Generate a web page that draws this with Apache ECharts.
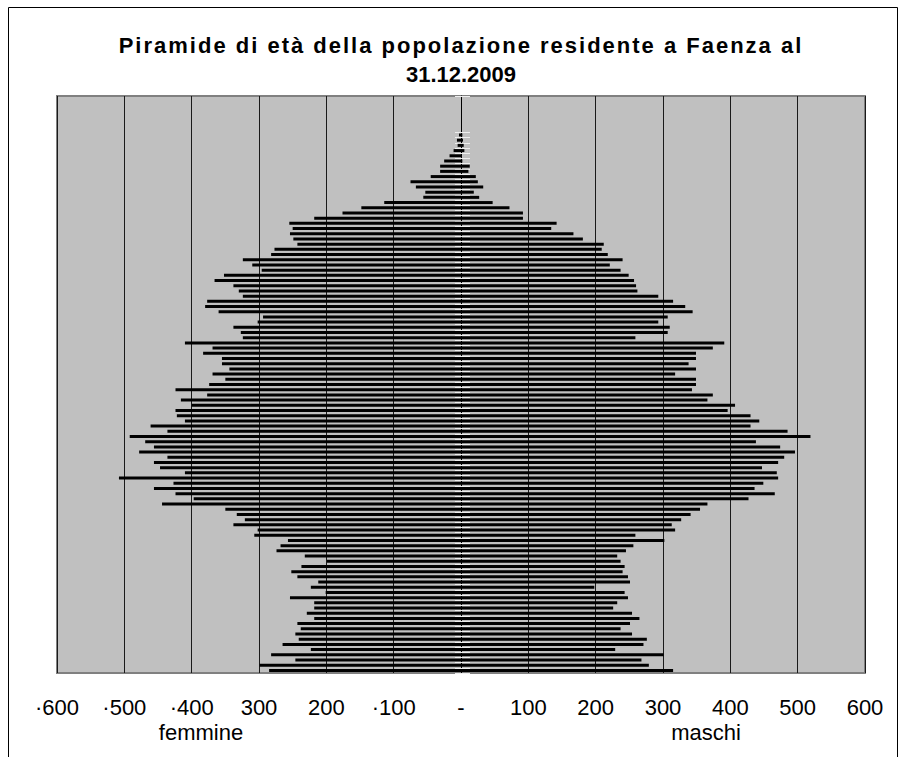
<!DOCTYPE html>
<html><head><meta charset="utf-8">
<script src="https://cdn.jsdelivr.net/npm/echarts@6/dist/echarts.min.js"></script>
<style>
html,body{margin:0;padding:0;background:#fff}
#c{width:900px;height:757px}
#c text[fill="#010101"]{letter-spacing:2px}
</style>
</head><body><div id="c"></div>
<script>
const ages = ['0','1','2','3','4','5','6','7','8','9','10','11','12','13','14','15','16','17','18','19','20','21','22','23','24','25','26','27','28','29','30','31','32','33','34','35','36','37','38','39','40','41','42','43','44','45','46','47','48','49','50','51','52','53','54','55','56','57','58','59','60','61','62','63','64','65','66','67','68','69','70','71','72','73','74','75','76','77','78','79','80','81','82','83','84','85','86','87','88','89','90','91','92','93','94','95','96','97','98','99','100','101','102','103','104','105','106','107','108','109','110'];

const maschi = [315,279,268,301,229,271,276,254,237,251,
265,254,226,232,248,243,198,251,248,240,
243,237,232,245,256,302,259,318,313,327,
341,355,366,427,466,436,449,471,469,447,
471,480,496,474,438,519,485,430,443,430,
396,407,366,374,343,349,349,318,349,338,
349,349,374,391,259,307,310,293,307,344,
333,315,293,262,260,257,249,237,221,240,
218,209,212,181,167,134,142,92,92,72,
47,27,19,33,25,22,11,13,2,1,
5,4,3,2,0,0,0,0,0,0,0];

const femmine = [285,299,246,282,223,265,241,246,238,243,
218,229,218,218,254,201,223,212,243,252,
237,199,232,274,268,257,307,302,338,321,
333,350,444,397,424,456,427,508,410,447,
456,436,478,456,469,492,436,461,410,422,
424,400,416,377,424,374,350,369,344,355,
355,383,369,410,324,327,338,302,294,360,
380,377,324,330,338,366,352,296,310,324,
282,277,243,249,254,250,255,218,176,148,
114,56,53,67,75,45,31,31,25,17,
11,5,6,3,0,0,0,0,0,0,0];

const tickValues = [-600,-500,-400,-300,-200,-100,0,100,200,300,400,500,600];
const tickLabels = ['·600','·500','·400','300','200','·100','-','100','200','300','400','500','600'];

const titleLines = ['Piramide di età della popolazione residente a Faenza al', '31.12.2009'];
const axisTitles = ['femmine', 'maschi'];

const chart = echarts.init(document.getElementById('c'), null, {renderer: 'svg'});
const labelFont = '"Liberation Sans", Arial, sans-serif';
function tickShown(i) { return maschi[i] > 0 || femmine[i] > 0 || (i > 0 && (maschi[i - 1] > 0 || femmine[i - 1] > 0)); }

chart.setOption({
  animation: false,
  backgroundColor: '#ffffff',
  grid: {
    left: 57, right: 35, top: 96, bottom: 84,
    show: true, backgroundColor: '#C0C0C0', borderColor: '#808080', borderWidth: 2
  },
  xAxis: {
    type: 'value', min: -600, max: 600, interval: 100,
    axisLine: {show: false}, axisTick: {show: false},
    splitLine: {show: true, lineStyle: {color: '#1a1a1a', width: 1}},
    axisLabel: {
      margin: 23, color: '#000', fontFamily: labelFont, fontSize: 22,
      formatter: function (v) { const i = tickValues.indexOf(v); return i >= 0 ? tickLabels[i] : ''; }
    }
  },
  yAxis: [{
    type: 'category', data: ages,
    axisLine: {show: true, onZero: true, lineStyle: {color: '#000', width: 1}},
    axisTick: {show: true, interval: tickShown, length: 6, inside: false, lineStyle: {color: '#eeeeee', width: 1}},
    axisLabel: {show: false}, splitLine: {show: false}
  }, {
    type: 'category', data: ages, position: 'left',
    axisLine: {show: false, onZero: true, onZeroAxisIndex: 0},
    axisTick: {show: true, interval: tickShown, length: 9, inside: true, lineStyle: {color: '#eeeeee', width: 1}},
    axisLabel: {show: false}, splitLine: {show: false}
  }],
  series: [{
    name: 'femmine', type: 'bar', stack: 'p', yAxisIndex: 0,
    data: femmine.map(function (v) { return -v; }),
    barWidth: 3, itemStyle: {color: '#000'}
  }, {
    name: 'maschi', type: 'bar', stack: 'p', yAxisIndex: 0,
    data: maschi, barWidth: 3, itemStyle: {color: '#000'}
  }],
  graphic: [
    {type: 'rect', z: 100, silent: true, shape: {x: 8.5, y: 7.5, width: 889, height: 800},
     style: {fill: 'none', stroke: '#000', lineWidth: 1}},
    {type: 'text', z: 100, style: {text: titleLines[0], x: 461, y: 45, align: 'center', verticalAlign: 'middle',
     font: 'bold 22px "Liberation Sans", Arial, sans-serif', fill: '#010101'}},
    {type: 'text', z: 100, style: {text: titleLines[1], x: 461, y: 74, align: 'center', verticalAlign: 'middle',
     font: 'bold 22px "Liberation Sans", Arial, sans-serif', fill: '#000'}},
    {type: 'text', z: 100, style: {text: axisTitles[0], x: 201, y: 732, align: 'center', verticalAlign: 'middle',
     font: '22px "Liberation Sans", Arial, sans-serif', fill: '#000'}},
    {type: 'text', z: 100, style: {text: axisTitles[1], x: 706, y: 732, align: 'center', verticalAlign: 'middle',
     font: '22px "Liberation Sans", Arial, sans-serif', fill: '#000'}}
  ]
});
</script>
</body></html>
